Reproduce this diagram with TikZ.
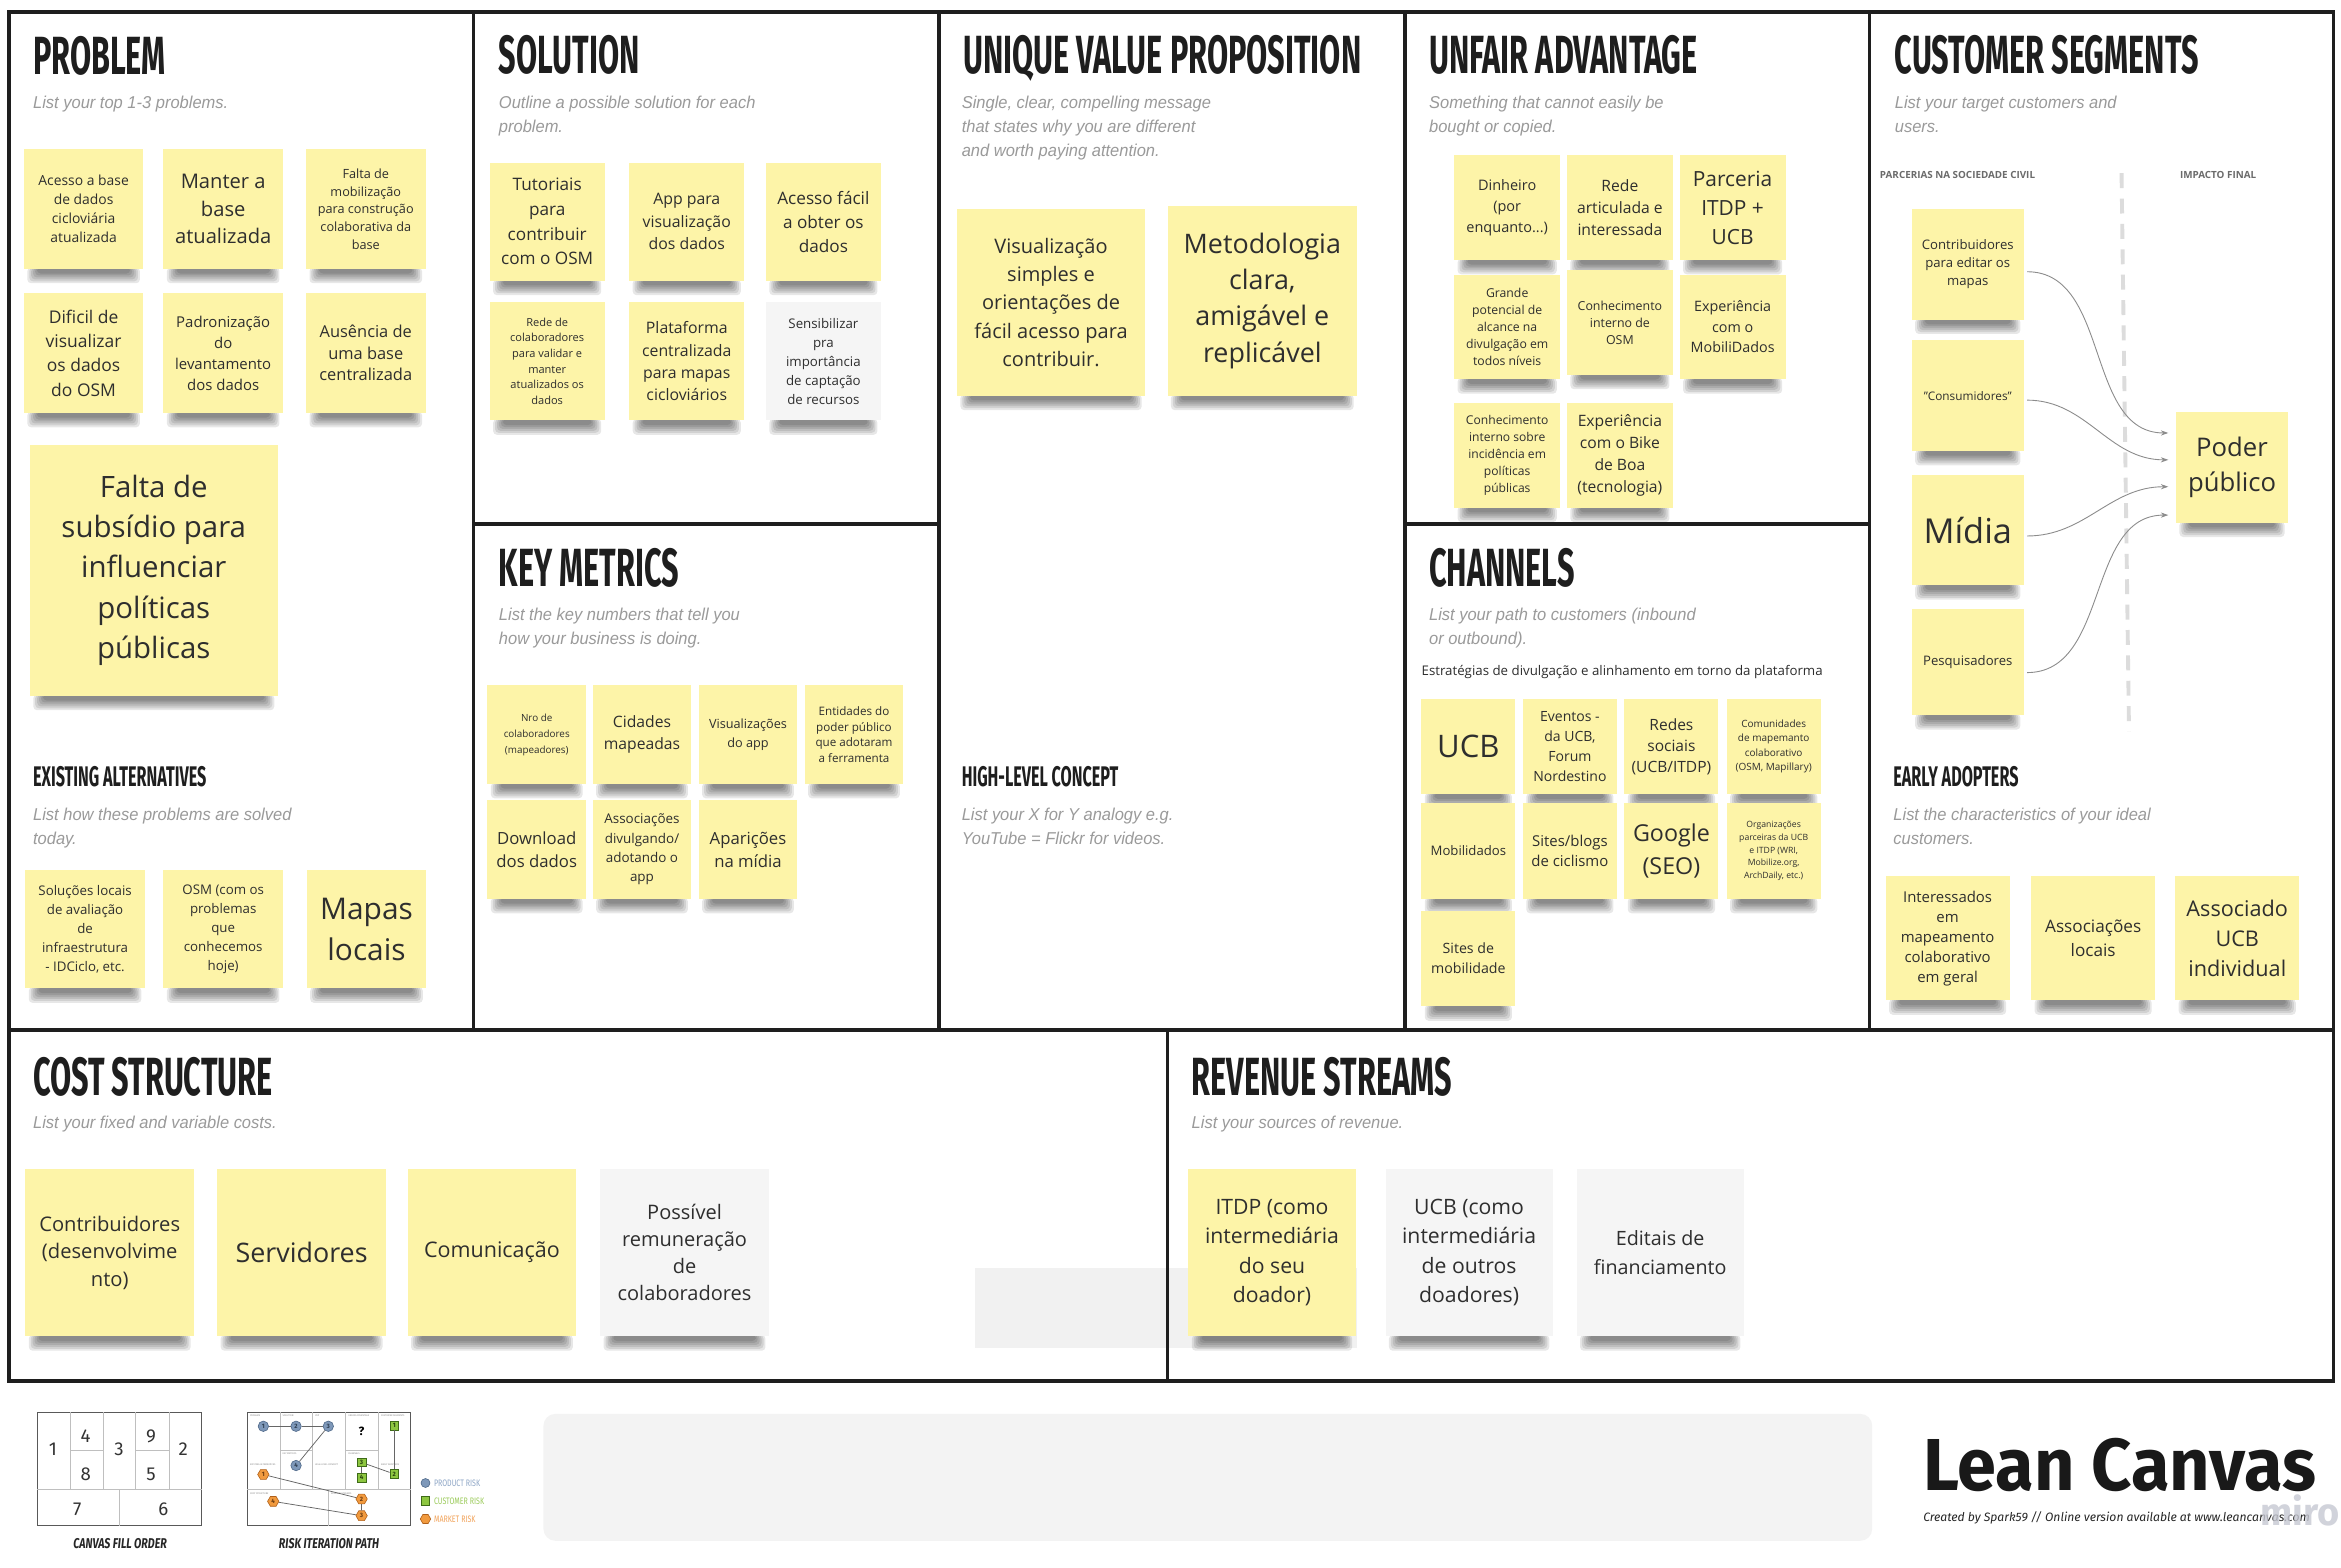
\documentclass[tikz,border=0pt]{standalone}
\usepackage{graphicx}
\usepackage{fontspec}
\setmainfont{Open Sans}
\newfontfamily\ttlf[FakeStretch=0.57]{Fira Sans}
\newfontfamily\subf[FakeStretch=0.96]{Liberation Sans}
\newfontfamily\firaf{Fira Sans}
\newfontfamily\condf[FakeStretch=0.75]{Fira Sans}
\usetikzlibrary{arrows.meta,shapes.geometric,calc}
\pgfdeclarelayer{bgL}
\pgfdeclarelayer{shadowL}
\pgfsetlayers{bgL,shadowL,main}
\newcommand\fz[2]{\fontsize{#1}{#2}\selectfont}
\definecolor{stY}{HTML}{FDF4A8}
\definecolor{stW}{HTML}{F5F5F5}
\definecolor{frameC}{HTML}{1E1E1E}
\definecolor{subC}{HTML}{9A9A9A}
\definecolor{txtC}{HTML}{2E2E2E}
\definecolor{arrC}{HTML}{8C8C8C}
\definecolor{dashC}{HTML}{DCDCDC}
\definecolor{panelC}{HTML}{F3F3F3}
\definecolor{revC}{HTML}{F1F1F1}
\definecolor{rblue}{HTML}{7E98B9}
\definecolor{rblueD}{HTML}{4D6788}
\definecolor{rgreen}{HTML}{8DC640}
\definecolor{rgreenD}{HTML}{3E6B18}
\definecolor{rorange}{HTML}{F19A3E}
\definecolor{rorangeD}{HTML}{B0601A}
\definecolor{lblue}{HTML}{8EA6C6}
\definecolor{lgreen}{HTML}{9BCB5A}
\definecolor{lorange}{HTML}{F2A35A}
\definecolor{miroC}{HTML}{C6C8D2}
\begin{document}
\begin{tikzpicture}[x=1pt,y=-1pt,
 fr/.style={draw=frameC, line width=2.3pt},
 ttl/.style={anchor=base west, inner sep=0pt, text=frameC, font=\ttlf\bfseries\fz{36}{36}},
 sttl/.style={anchor=base west, inner sep=0pt, text=frameC, font=\ttlf\bfseries\fz{19}{19}},
 sub/.style={anchor=north west, inner sep=0pt, align=left, text=subC, font=\subf\itshape\fz{11.5}{16}},
 st/.style={fill=stY, inner sep=0pt, align=center, text=txtC,
   append after command={\pgfextra{\begin{pgfonlayer}{shadowL}
     \foreach \k in {0,...,5} {\fill[black, fill opacity=0.095, rounded corners=2.5pt]
       ($(\tikzlastnode.south west)+(2.5+\k*1.3,-1)$) rectangle ($(\tikzlastnode.south east)+(-2.5-\k*1.3,9.5-\k*1.3)$);}
     \end{pgfonlayer}}}},
 stw/.style={st, fill=stW},
 sP/.style={minimum width=80pt, minimum height=80pt},
 sE/.style={minimum width=80pt, minimum height=79pt},
 sS/.style={minimum width=77pt, minimum height=79pt},
 sK/.style={minimum width=66pt, minimum height=66pt},
 sA/.style={minimum width=71pt, minimum height=70pt},
 sC/.style={minimum width=63pt, minimum height=64pt},
 sCS/.style={minimum width=75pt, minimum height=74pt},
 sEA/.style={minimum width=83pt, minimum height=83pt},
 sCO/.style={minimum width=113pt, minimum height=112pt},
 arr/.style={draw=arrC, line width=0.6pt, -{Stealth[length=5pt,width=3.5pt]}},
 lg/.style={draw=black!65, line width=0.7pt},
 lgi/.style={draw=black!25, line width=0.5pt},
 num/.style={inner sep=0pt, text=black!80, font=\firaf\fz{12.5}{12.5}},
 capt/.style={inner sep=0pt, text=black!85, font=\condf\bfseries\itshape\fz{9.5}{9.5}},
 tiny/.style={anchor=north west, inner sep=0pt, text=black!45, font=\firaf\fz{1.6}{1.6}},
 rb/.style={circle, fill=rblue, draw=rblueD, line width=0.4pt, minimum size=7pt, inner sep=0pt, text=rblueD!60!black, font=\firaf\bfseries\fz{4.2}{4.2}},
 rg/.style={rectangle, fill=rgreen, draw=rgreenD, line width=0.4pt, minimum size=5.8pt, inner sep=0pt, text=rgreenD!60!black, font=\firaf\bfseries\fz{4.2}{4.2}},
 ro/.style={regular polygon, regular polygon sides=6, fill=rorange, draw=rorangeD, line width=0.4pt, minimum size=7.6pt, inner sep=0pt, text=rorangeD!60!black, font=\firaf\bfseries\fz{4.2}{4.2}},
 rl/.style={draw=black!60, line width=0.5pt},
 lgt/.style={anchor=west, inner sep=0pt, font=\condf\fz{6.3}{6.3}}
]
\useasboundingbox (0,0) rectangle (1568,1049.6);
\begin{pgfonlayer}{bgL}
\fill[white] (0,0) rectangle (1568,1049.6);
% light band behind revenue sticky
\fill[revC] (653,849) rectangle (909,903);
\end{pgfonlayer}

% frame
\draw[fr] (6,8) rectangle (1563,925);
\draw[fr] (6,690) -- (1563,690);
\draw[fr] (317,8) -- (317,690);
\draw[fr] (629,8) -- (629,690);
\draw[fr] (941,8) -- (941,690);
\draw[fr] (1252,8) -- (1252,690);
\draw[fr] (317,351) -- (629,351);
\draw[fr] (941,351) -- (1252,351);
\draw[fr] (782,690) -- (782,925);

% titles
\node[ttl] (tProb) at (22,50) {PROBLEM};
\node[ttl] (tSol) at (334,49) {SOLUTION};
\node[ttl] (tUvp) at (645,49) {UNIQUE VALUE PROPOSITION};
\node[ttl] (tUnf) at (957,49) {UNFAIR ADVANTAGE};
\node[ttl] (tCus) at (1269,49) {CUSTOMER SEGMENTS};
\node[ttl] (tKey) at (334,393) {KEY METRICS};
\node[ttl] (tCha) at (957,393) {CHANNELS};
\node[ttl] (tCost) at (22,734) {COST STRUCTURE};
\node[ttl] (tRev) at (798,734) {REVENUE STREAMS};
\node[sttl] (tExi) at (22,527) {EXISTING ALTERNATIVES};
\node[sttl] (tHlc) at (644,527) {HIGH-LEVEL CONCEPT};
\node[sttl] (tEar) at (1268,527) {EARLY ADOPTERS};

% subtitles
\node[sub] (sProb) at (22,64) {List your top 1-3 problems.};
\node[sub] (sSol) at (334,64) {Outline a possible solution for each\\problem.};
\node[sub] (sUvp) at (644,64) {Single, clear, compelling message\\that states why you are different\\and worth paying attention.};
\node[sub] (sUnf) at (957,64) {Something that cannot easily be\\bought or copied.};
\node[sub] (sCus) at (1269,64) {List your target customers and\\users.};
\node[sub] (sKey) at (334,407) {List the key numbers that tell you\\how your business is doing.};
\node[sub] (sCha) at (957,407) {List your path to customers (inbound\\or outbound).};
\node[sub] (sExi) at (22,541) {List how these problems are solved\\today.};
\node[sub] (sHlc) at (644,541) {List your X for Y analogy e.g.\\YouTube = Flickr for videos.};
\node[sub] (sEar) at (1268,541) {List the characteristics of your ideal\\customers.};
\node[sub] (sCost) at (22,747) {List your fixed and variable costs.};
\node[sub] (sRev) at (798,747) {List your sources of revenue.};

% PROBLEM
\node[st,sP,font=\fz{9.3}{12.7}] (p1) at (56,140) {Acesso a base\\de dados\\cicloviária\\atualizada};
\node[st,sP,font=\fz{13.5}{18.5}] (p2) at (149.5,140) {Manter a\\base\\atualizada};
\node[st,sP,font=\fz{8.5}{11.8}] (p3) at (245,140) {Falta de\\mobilização\\para construção\\colaborativa da\\base};
\node[st,sP,font=\fz{11.7}{16.3}] (p4) at (56,236.5) {Dificil de\\visualizar\\os dados\\do OSM};
\node[st,sP,font=\fz{10}{14}] (p5) at (149.5,236.5) {Padronização\\do\\levantamento\\dos dados};
\node[st,sP,font=\fz{11}{14.5}] (p6) at (245,236.5) {Ausência de\\uma base\\centralizada};
\node[st,minimum width=166pt,minimum height=168pt,font=\fz{19.7}{27}] (p7) at (103,382) {Falta de\\subsídio para\\influenciar\\políticas\\públicas};

% EXISTING ALTERNATIVES
\node[st,sE,font=\fz{8.9}{12.7}] (e1) at (57,622.5) {Soluções locais\\de avaliação\\de\\infraestrutura\\- IDCiclo, etc.};
\node[st,sE,font=\fz{8.9}{12.7}] (e2) at (149.5,622.5) {OSM (com os\\problemas\\que\\conhecemos\\hoje)};
\node[st,sE,font=\fz{20}{27}] (e3) at (245.5,622.5) {Mapas\\locais};

% SOLUTION
\node[st,sS,font=\fz{11.5}{16.5}] (s1) at (366.5,148.5) {Tutoriais\\para\\contribuir\\com o OSM};
\node[st,sS,font=\fz{10.6}{15}] (s2) at (460,148.5) {App para\\visualização\\dos dados};
\node[st,sS,font=\fz{11.5}{16}] (s3) at (551.5,148.5) {Acesso fácil\\a obter os\\dados};
\node[st,sS,font=\fz{7.4}{10.5}] (s4) at (366.5,242) {Rede de\\colaboradores\\para validar e\\manter\\atualizados os\\dados};
\node[st,sS,font=\fz{10.6}{15}] (s5) at (460,242) {Plataforma\\centralizada\\para mapas\\cicloviários};
\node[stw,sS,font=\fz{8.9}{12.7}] (s6) at (551.5,242) {Sensibilizar\\pra\\importância\\de captação\\de recursos};

% UVP
\node[st,minimum width=126pt,minimum height=125pt,font=\fz{13.4}{19}] (u1) at (704,202.5) {Visualização\\simples e\\orientações de\\fácil acesso para\\contribuir.};
\node[st,minimum width=127pt,minimum height=127pt,font=\fz{18}{24.3}] (u2) at (845.5,201.5) {Metodologia\\clara,\\amigável e\\replicável};

% KEY METRICS
\node[st,sK,font=\fz{6.6}{10.7}] (k1) at (359.5,492) {Nro de\\colaboradores\\(mapeadores)};
\node[st,sK,font=\fz{10.5}{14.5}] (k2) at (430,492) {Cidades\\mapeadas};
\node[st,sK,font=\fz{8.5}{12.5}] (k3) at (501,492) {Visualizações\\do app};
\node[st,sK,font=\fz{7.8}{10.4}] (k4) at (572,492) {Entidades do\\poder público\\que adotaram\\a ferramenta};
\node[st,sK,font=\fz{11.2}{15.5}] (k5) at (359.5,569) {Download\\dos dados};
\node[st,sK,font=\fz{9}{13}] (k6) at (430,569) {Associações\\divulgando/\\adotando o\\app};
\node[st,sK,font=\fz{11.2}{15.5}] (k7) at (501,569) {Aparições\\na mídia};

% UNFAIR ADVANTAGE
\node[st,sA,font=\fz{9.7}{14}] (a1) at (1009.5,139) {Dinheiro\\(por\\enquanto...)};
\node[st,sA,font=\fz{10.5}{14.5}] (a2) at (1085,139) {Rede\\articulada e\\interessada};
\node[st,sA,font=\fz{14}{19.4}] (a3) at (1160.5,139) {Parceria\\ITDP +\\UCB};
\node[st,sA,font=\fz{8.2}{11.4}] (a4) at (1009.5,219) {Grande\\potencial de\\alcance na\\divulgação em\\todos níveis};
\node[st,sA,font=\fz{8.3}{11.4}] (a5) at (1085,216) {Conhecimento\\interno de\\OSM};
\node[st,sA,font=\fz{9.6}{13.8}] (a6) at (1160.5,219) {Experiência\\com o\\MobiliDados};
\node[st,sA,font=\fz{8.1}{11.4}] (a7) at (1009.5,305) {Conhecimento\\interno sobre\\incidência em\\políticas\\públicas};
\node[st,sA,font=\fz{10.5}{14.7}] (a8) at (1085,305) {Experiência\\com o Bike\\de Boa\\(tecnologia)};

% CHANNELS
\node[anchor=west, inner sep=0pt, text=txtC, font=\fz{8.9}{8.9}] (chIntro) at (952,450) {Estratégias de divulgação e alinhamento em torno da plataforma};
\node[st,sC,font=\fz{20.8}{20.8}] (c1) at (983.5,500) {UCB};
\node[st,sC,font=\fz{9.4}{13.4}] (c2) at (1051.5,500) {Eventos -\\da UCB,\\Forum\\Nordestino};
\node[st,sC,font=\fz{10.4}{14}] (c3) at (1119.5,500) {Redes\\sociais\\(UCB/ITDP)};
\node[st,sC,font=\fz{6.7}{9.6}] (c4) at (1188,500) {Comunidades\\de mapemanto\\colaborativo\\(OSM, Mapillary)};
\node[st,sC,font=\fz{8.8}{12}] (c5) at (983.5,570) {Mobilidados};
\node[st,sC,font=\fz{10}{13.8}] (c6) at (1051.5,570) {Sites/blogs\\de ciclismo};
\node[st,sC,font=\fz{15.6}{21.5}] (c7) at (1119.5,570) {Google\\(SEO)};
\node[st,sC,font=\fz{5.8}{8.5}] (c8) at (1188,570) {Organizações\\parceiras da UCB\\e ITDP (WRI,\\Mobilize.org,\\ArchDaily, etc.)};
\node[st,sC,font=\fz{9.5}{13.4}] (c9) at (983.5,642) {Sites de\\mobilidade};

% CUSTOMER SEGMENTS
\node[anchor=west, inner sep=0pt, text=black!58, font=\bfseries\fz{6.6}{6.6}] (hParc) at (1259,117) {PARCERIAS NA SOCIEDADE CIVIL};
\node[anchor=west, inner sep=0pt, text=black!58, font=\bfseries\fz{6.6}{6.6}] (hImp) at (1460,117) {IMPACTO FINAL};
\draw[draw=dashC, line width=2.6pt, dash pattern=on 10pt off 7pt] (1421,116) -- (1426,490);
\node[st,sCS,font=\fz{8.8}{12}] (cs1) at (1318,177) {Contribuidores\\para editar os\\mapas};
\node[st,sCS,font=\fz{7.9}{10}] (cs2) at (1318,265) {"Consumidores"};
\node[st,sCS,font=\fz{23}{23}] (cs3) at (1318,355) {Mídia};
\node[st,minimum width=75pt,minimum height=71pt,font=\fz{8.8}{10}] (cs4) at (1318,443.5) {Pesquisadores};
\node[st,sCS,font=\fz{17.2}{24}] (poder) at (1495,313) {Poder\\público};
\draw[arr] ([xshift=2pt,yshift=-5pt]cs1.east) to[out=0,in=180] ([xshift=-5pt,yshift=23pt]poder.west);
\draw[arr] ([xshift=2pt,yshift=-3pt]cs2.east) to[out=0,in=180] ([xshift=-5pt,yshift=5pt]poder.west);
\draw[arr] ([xshift=2pt,yshift=-4pt]cs3.east) to[out=0,in=180] ([xshift=-5pt,yshift=-13pt]poder.west);
\draw[arr] ([xshift=2pt,yshift=-7pt]cs4.east) to[out=0,in=180] ([xshift=-5pt,yshift=-32pt]poder.west);

% EARLY ADOPTERS
\node[st,sEA,font=\fz{10}{13.4}] (ea1) at (1304.5,628.5) {Interessados\\em\\mapeamento\\colaborativo\\em geral};
\node[st,sEA,font=\fz{11.5}{16}] (ea2) at (1402,628.5) {Associações\\locais};
\node[st,sEA,font=\fz{14.5}{20}] (ea3) at (1498.5,628.5) {Associado\\UCB\\individual};

% COST STRUCTURE
\node[st,sCO,font=\fz{13.5}{18.5}] (co1) at (73.5,839) {Contribuidores\\(desenvolvime\\nto)};
\node[st,sCO,font=\fz{18}{18}] (co2) at (202,839) {Servidores};
\node[st,sCO,font=\fz{14.4}{14.4}] (co3) at (329.5,839) {Comunicação};
\node[stw,sCO,font=\fz{13.4}{18}] (co4) at (458.5,839) {Possível\\remuneração\\de\\colaboradores};

% REVENUE STREAMS
\node[st,minimum width=112pt,minimum height=112pt,font=\fz{14.2}{19.7}] (r1) at (852,839) {ITDP (como\\intermediária\\do seu\\doador)};
\node[stw,minimum width=112pt,minimum height=112pt,font=\fz{14.2}{19.7}] (r2) at (984,839) {UCB (como\\intermediária\\de outros\\doadores)};
\node[stw,minimum width=112pt,minimum height=112pt,font=\fz{13.2}{19}] (r3) at (1112,839) {Editais de\\financiamento};

% ---- footer: canvas fill order
\draw[lg] (25,946) rectangle (135,1022);
\draw[lgi] (47.3,946) -- (47.3,997.8) (69.2,946) -- (69.2,997.8) (90.9,946) -- (90.9,997.8) (113.2,946) -- (113.2,997.8);
\draw[lgi] (47.3,971.4) -- (69.2,971.4) (90.9,971.4) -- (113.2,971.4);
\draw[lgi] (25,997.8) -- (135,997.8) (79.9,997.8) -- (79.9,1022);
\node[num] (n1) at (35.5,970.6) {1};
\node[num] (n4) at (57.4,962.2) {4};
\node[num] (n8) at (57.4,987.2) {8};
\node[num] (n3) at (79.7,970.6) {3};
\node[num] (n9) at (101.1,962.2) {9};
\node[num] (n5) at (101.1,987.2) {5};
\node[num] (n2) at (122.8,970.6) {2};
\node[num] (n7) at (51.8,1011) {7};
\node[num] (n6) at (109.4,1011) {6};
\node[capt] (capFill) at (80.4,1034) {CANVAS FILL ORDER};

% ---- footer: risk iteration path
\draw[lg] (165.7,946) rectangle (275,1022);
\draw[lgi] (187.5,946) -- (187.5,997.8) (209.2,946) -- (209.2,997.8) (231.5,946) -- (231.5,997.8) (253.4,946) -- (253.4,997.8);
\draw[lgi] (187.5,971.4) -- (209.2,971.4) (231.5,971.4) -- (253.4,971.4);
\draw[lgi] (165.7,997.8) -- (275,997.8) (220,997.8) -- (220,1022);
\node[tiny] (l1) at (167.3,947.5) {PROBLEM};
\node[tiny] (l2) at (189.1,947.5) {SOLUTION};
\node[tiny] (l3) at (210.8,947.5) {UVP};
\node[tiny] (l4) at (233.1,947.5) {UNFAIR ADVANTAGE};
\node[tiny] (l5) at (255,947.5) {CUSTOMER SEGMENTS};
\node[tiny] (l6) at (189.1,973) {KEY METRICS};
\node[tiny] (l7) at (233.1,973) {CHANNELS};
\node[tiny] (l8) at (167.3,980.5) {EXISTING ALTERNATIVES};
\node[tiny] (l9) at (210.8,980.5) {HIGH-LEVEL CONCEPT};
\node[tiny] (l10) at (255,980.5) {EARLY ADOPTERS};
\node[tiny] (l11) at (167.3,999.4) {COST STRUCTURE};
\node[tiny] (l12) at (221.6,999.4) {REVENUE STREAMS};
\node[inner sep=0pt, font=\firaf\bfseries\fz{8}{8}] (qm) at (242.2,958.9) {?};
\node[rb] (b1) at (176.4,955.3) {1};
\node[rb] (b2) at (198.3,955.3) {2};
\node[rb] (b3) at (219.9,955.3) {3};
\node[rb] (b4) at (198.3,981.6) {4};
\node[rg] (g1) at (264.1,954.9) {1};
\node[rg] (g2) at (264.1,987.3) {2};
\node[rg] (g3) at (242.2,979.5) {3};
\node[rg] (g4) at (242.2,989.6) {4};
\node[ro] (o1) at (176.4,987.6) {1};
\node[ro] (o2) at (242.2,1004) {2};
\node[ro] (o3) at (242.2,1015.2) {3};
\node[ro] (o4) at (183,1005.6) {4};
\draw[rl] (b1) -- (b2); \draw[rl] (b2) -- (b3); \draw[rl] (b3) -- (b4);
\draw[rl] (g1) -- (g2); \draw[rl] (g3) -- (g2); \draw[rl] (g3) -- (g4);
\draw[rl] (o1) -- (o2); \draw[rl] (o2) -- (o3); \draw[rl] (o4) -- (o3);
\node[capt] (capRisk) at (220.4,1034) {RISK ITERATION PATH};
\node[rb, minimum size=6pt] (lgB) at (285,993.3) {};
\node[rg, minimum size=5.5pt] (lgG) at (285,1005.2) {};
\node[ro, minimum size=7pt] (lgO) at (285,1017.4) {};
\node[lgt, text=lblue] (lgBt) at (290.5,993.3) {PRODUCT RISK};
\node[lgt, text=lgreen] (lgGt) at (290.5,1005.2) {CUSTOMER RISK};
\node[lgt, text=lorange] (lgOt) at (290.5,1017.4) {MARKET RISK};

% ---- footer panel
\fill[panelC, rounded corners=8pt] (364,947) rectangle (1254,1032);

% ---- logo
\node[anchor=base west, inner sep=0pt, text=black!90] (lc) at (1288,998) {\resizebox{263pt}{35pt}{\firaf\bfseries Lean Canvas}};
\node[anchor=base west, inner sep=0pt, text=black!85] (cred) at (1288,1019) {\resizebox{259pt}{!}{\firaf\itshape Created by Spark59 // Online version available at www.leancanvas.com}};
\node[anchor=base west, inner sep=0pt, text=miroC, opacity=0.8] (miro) at (1514,1022) {\resizebox{53pt}{!}{\firaf\bfseries miro}};
\end{tikzpicture}
\end{document}
